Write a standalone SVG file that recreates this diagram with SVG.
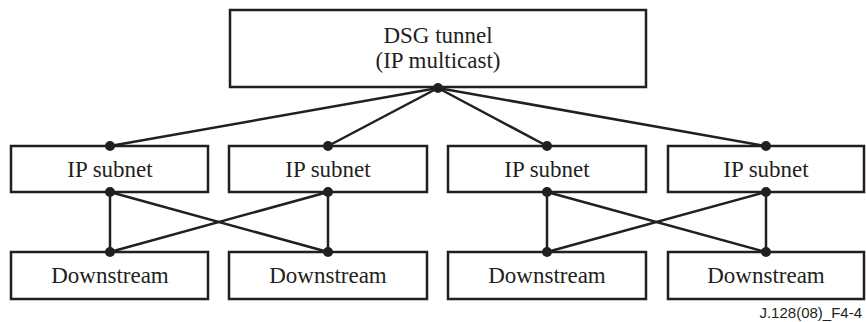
<svg xmlns="http://www.w3.org/2000/svg" width="866" height="322" viewBox="0 0 866 322">
<style>
.box{fill:#fff;stroke:#231f20;stroke-width:2.5}
.t{font-family:"Liberation Serif","Times New Roman",serif;font-size:23px;fill:#231f20;text-anchor:middle}
.c{stroke:#231f20;stroke-width:2.5;fill:none}
.d{fill:#231f20}
.lbl{font-family:"Liberation Sans",Arial,sans-serif;font-size:15px;fill:#231f20;text-anchor:end}
</style>
<rect width="866" height="322" fill="#fff"/>
<g id="connectors">
<line class="c" x1="438" y1="88" x2="110" y2="146"/>
<line class="c" x1="438" y1="88" x2="328" y2="146"/>
<line class="c" x1="438" y1="88" x2="547" y2="146"/>
<line class="c" x1="438" y1="88" x2="766" y2="146"/>
<line class="c" x1="110" y1="192" x2="110" y2="252"/>
<line class="c" x1="328" y1="192" x2="328" y2="252"/>
<line class="c" x1="110" y1="192" x2="328" y2="252"/>
<line class="c" x1="328" y1="192" x2="110" y2="252"/>
<line class="c" x1="547" y1="192" x2="547" y2="252"/>
<line class="c" x1="766" y1="192" x2="766" y2="252"/>
<line class="c" x1="547" y1="192" x2="766" y2="252"/>
<line class="c" x1="766" y1="192" x2="547" y2="252"/>
</g>
<g id="tunnel">
<rect class="box" x="230" y="10" width="416" height="77"/>
<text class="t" x="438" y="43">DSG tunnel</text>
<text class="t" x="438" y="68">(IP multicast)</text>
</g>
<g id="subnet1"><rect class="box" x="11" y="146" width="197" height="46"/><text class="t" x="110" y="177">IP subnet</text></g>
<g id="subnet2"><rect class="box" x="229" y="146" width="198" height="46"/><text class="t" x="328" y="177">IP subnet</text></g>
<g id="subnet3"><rect class="box" x="448" y="146" width="198" height="46"/><text class="t" x="547" y="177">IP subnet</text></g>
<g id="subnet4"><rect class="box" x="668" y="146" width="196" height="46"/><text class="t" x="766" y="177">IP subnet</text></g>
<g id="down1"><rect class="box" x="11" y="252" width="197" height="47"/><text class="t" x="110" y="283">Downstream</text></g>
<g id="down2"><rect class="box" x="229" y="252" width="198" height="47"/><text class="t" x="328" y="283">Downstream</text></g>
<g id="down3"><rect class="box" x="448" y="252" width="198" height="47"/><text class="t" x="547" y="283">Downstream</text></g>
<g id="down4"><rect class="box" x="668" y="252" width="196" height="47"/><text class="t" x="766" y="283">Downstream</text></g>
<g id="dots">
<circle class="d" cx="438" cy="88" r="5"/>
<circle class="d" cx="110" cy="146" r="5"/>
<circle class="d" cx="328" cy="146" r="5"/>
<circle class="d" cx="547" cy="146" r="5"/>
<circle class="d" cx="766" cy="146" r="5"/>
<circle class="d" cx="110" cy="192" r="5"/>
<circle class="d" cx="328" cy="192" r="5"/>
<circle class="d" cx="547" cy="192" r="5"/>
<circle class="d" cx="766" cy="192" r="5"/>
<circle class="d" cx="110" cy="252" r="5"/>
<circle class="d" cx="328" cy="252" r="5"/>
<circle class="d" cx="547" cy="252" r="5"/>
<circle class="d" cx="766" cy="252" r="5"/>
</g>
<text class="lbl" x="862" y="318">J.128(08)_F4-4</text>
</svg>
